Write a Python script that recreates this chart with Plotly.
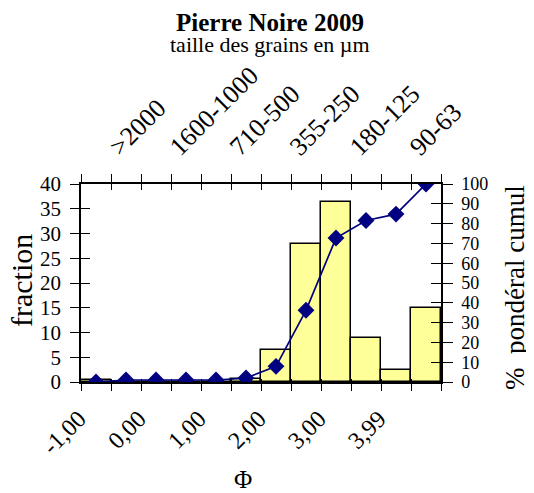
import plotly.graph_objects as go

# phi classes (12 categories, labelled every other one)
phi_labels = ["-1,00", "0,00", "1,00", "2,00", "3,00", "3,99"]
size_labels = [">2000", "1600-1000", "710-500", "355-250", "180-125", "90-63"]

# weight fraction per class (%) and cumulated weight (%)
fraction = [0.4, 0.0, 0.0, 0.0, 0.0, 0.6, 6.5, 27.8, 36.4, 8.9, 2.4, 15.0]
cumul = [0.0, 1.0, 1.0, 1.0, 1.0, 2.0, 7.9, 36.2, 72.7, 81.6, 84.8, 100.0]

FONT = "Liberation Serif"
n = len(fraction)
cats = list(range(n))
bounds = [i - 0.5 for i in range(n + 1)]

fig = go.Figure()

# empty traces so that the extra (tick / label) axes get drawn
for xa, ya in [("x2", "y"), ("x3", "y"), ("x4", "y"), ("x5", "y"),
               ("x6", "y"), ("x", "y3"), ("x", "y4")]:
    fig.add_trace(go.Scatter(x=[None], y=[None], xaxis=xa, yaxis=ya,
                             mode="markers", showlegend=False, hoverinfo="skip"))

fig.add_trace(go.Bar(
    x=cats, y=fraction,
    width=1,
    marker=dict(color="#FFFF99", line=dict(color="black", width=1.5)),
    showlegend=False,
))

fig.add_trace(go.Scatter(
    x=cats, y=cumul,
    yaxis="y2",
    mode="lines+markers",
    line=dict(color="#000080", width=1.7),
    marker=dict(symbol="diamond", size=13, color="#000080"),
    showlegend=False,
))

xrange = [-0.5, n - 0.5]
common_x = dict(range=xrange, showgrid=False, zeroline=False, automargin=False)
common_y = dict(showgrid=False, zeroline=False, automargin=False, tick0=0)


def note(text, x, y, dx, dy, size, angle=0):
    return dict(text=text, xref="paper", yref="paper", x=x, y=y,
                xshift=dx, yshift=dy, xanchor="center", yanchor="middle",
                showarrow=False, textangle=angle, borderpad=0,
                font=dict(family=FONT, size=size))


fig.update_layout(
    width=534, height=493,
    margin=dict(l=73, r=101, t=176, b=119),
    paper_bgcolor="white", plot_bgcolor="white",
    font=dict(family=FONT, color="black", size=18),
    bargap=0,
    annotations=[
        note("<b>Pierre Noire 2009</b>", 0.5, 1, 9, 162, 25),
        note("taille des grains en µm", 0.5, 1, 9, 140, 22),
        note("Φ", 0.5, 0, -18, -97, 25),
        note("fraction", 0, 0.5, -60, 2, 30, -90),
        note("%  pondéral cumul", 1, 0.5, 74, -5, 27, -90),
    ],
    # bottom axis: outside ticks at class boundaries
    xaxis=dict(**common_x, tickmode="array", tickvals=bounds, ticks="outside",
               ticklen=7, tickcolor="black", tickwidth=1, showticklabels=False,
               showline=True, linecolor="black", linewidth=1.5),
    # bottom labels
    xaxis2=dict(**common_x, overlaying="x", side="bottom", anchor="y", matches="x",
                tickmode="array", tickvals=cats[0::2], ticktext=phi_labels,
                ticks="", tickangle=-45, tickfont=dict(size=24),
                ticklabelstandoff=17, ticklabelshift=-17),
    # bottom inside ticks
    xaxis5=dict(**common_x, overlaying="x", side="bottom", anchor="y", matches="x",
                tickmode="array", tickvals=bounds, ticks="inside", ticklen=3,
                tickcolor="black", showticklabels=False),
    # top axis: outside ticks
    xaxis3=dict(**common_x, overlaying="x", side="top", anchor="y", matches="x",
                tickmode="array", tickvals=bounds, ticks="outside", ticklen=8,
                tickcolor="black", showticklabels=False,
                showline=True, linecolor="black", linewidth=1.5),
    # top labels
    xaxis4=dict(**common_x, overlaying="x", side="top", anchor="y", matches="x",
                tickmode="array", tickvals=cats[1::2], ticktext=size_labels,
                ticks="", tickangle=-45, tickfont=dict(size=26),
                ticklabelstandoff=17, ticklabelshift=-15),
    # top inside ticks
    xaxis6=dict(**common_x, overlaying="x", side="top", anchor="y", matches="x",
                tickmode="array", tickvals=bounds, ticks="inside", ticklen=6,
                tickcolor="black", showticklabels=False),
    yaxis=dict(**common_y, range=[0, 40], dtick=5, ticks="outside", ticklen=9,
               tickcolor="black", showline=True, linecolor="black", linewidth=1.5,
               tickfont=dict(size=21), ticklabelstandoff=5),
    yaxis3=dict(**common_y, range=[0, 40], dtick=5, overlaying="y", side="left",
                anchor="x", ticks="inside", ticklen=9, tickcolor="black",
                showticklabels=False),
    yaxis2=dict(**common_y, range=[0, 100], dtick=10, overlaying="y", side="right",
                anchor="x", ticks="outside", ticklen=10, tickcolor="black",
                showline=True, linecolor="black", linewidth=1.5,
                tickfont=dict(size=18), ticklabelstandoff=5),
    yaxis4=dict(**common_y, range=[0, 100], dtick=10, overlaying="y", side="right",
                anchor="x", ticks="inside", ticklen=10, tickcolor="black",
                showticklabels=False),
)

fig.write_html("out.html")
